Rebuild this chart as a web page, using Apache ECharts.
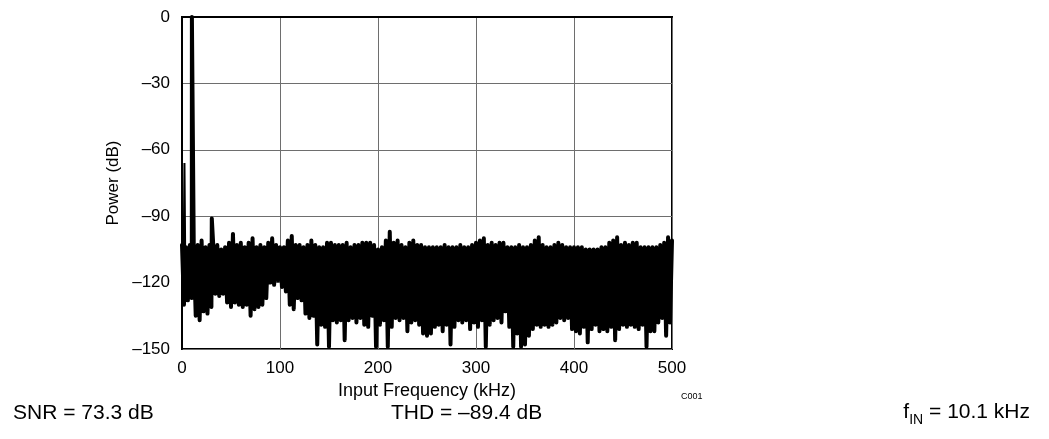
<!DOCTYPE html>
<html>
<head>
<meta charset="utf-8">
<script src="https://cdn.jsdelivr.net/npm/echarts@6/dist/echarts.min.js"></script>
<style>
  html, body { margin: 0; padding: 0; background: #fff; }
  #chart { width: 1049px; height: 439px; }
</style>
</head>
<body>
<div id="chart"></div>
<script>
// upper edge of the noise floor, read every 4 kHz starting at 0 kHz
var peakDb = [
  -103, -104, -103, -104, -103, -101, -104, -103, -104, -103,
  -105, -104, -102, -98, -103, -102, -104, -102, -100, -104,
  -103, -104, -102, -100, -103, -104, -104, -101, -99, -103,
  -103, -104, -103, -101, -103, -104, -104, -102, -102, -103,
  -103, -103, -102, -104, -103, -103, -102, -102, -102, -103,
  -105, -104, -101, -97, -102, -101, -103, -104, -102, -101,
  -103, -103, -104, -104, -104, -104, -104, -103, -104, -104,
  -104, -103, -104, -104, -103, -102, -101, -100, -103, -102,
  -103, -102, -102, -104, -104, -104, -103, -104, -104, -103,
  -101, -99.5, -103, -104, -104, -103, -102, -103, -104, -104,
  -104, -104, -104, -105, -105, -105, -105, -104, -104, -102,
  -101, -99.5, -103, -102, -103, -102, -102, -104, -104, -104,
  -104, -104, -103, -102, -99.5, -101
]
// lower edge of the noise floor, read every 4 kHz starting at 2 kHz
var troughDb = [
  -130, -128, -127, -135, -137, -133, -134, -131, -125, -126,
  -125, -129, -131, -129, -130, -131, -130, -135, -132, -131,
  -130, -127, -120, -121, -119, -122, -124, -130, -132, -127,
  -128, -134, -136, -135, -148, -139, -140, -149, -137, -138,
  -137, -146, -137, -136, -138, -136, -139, -140, -135, -149,
  -139, -137, -149, -140, -136, -137, -136, -142, -138, -137,
  -139, -143, -144, -143, -140, -139, -142, -139, -148, -140,
  -137, -138, -137, -141, -138, -140, -137, -149, -139, -137,
  -136, -138, -133, -140, -149, -143, -149, -148, -144, -141,
  -139, -140, -139, -140, -139, -138, -136, -137, -136, -141,
  -142, -143, -140, -147, -141, -139, -142, -141, -142, -140,
  -146, -141, -139, -140, -139, -140, -141, -139, -149, -142,
  -142, -138, -136, -144, -138
]
// fundamental and 3rd harmonic
var toneKHz = [10.1, 30.4]
var toneDb = [0, -91]
// DC bin, drawn as a thin line
var dcKHz = [1.5, 2.5, 3.5]
var dcDb = [-120, -66, -120]

var fontFamily = 'Liberation Sans, Arial, sans-serif'

function dash(v) {
  return String(v).replace('-', '\u2013')
}

var points = []
for (var i = 0; i < peakDb.length; i++) {
  points.push([i * 4, peakDb[i]])
}
for (var j = 0; j < troughDb.length; j++) {
  points.push([j * 4 + 2, troughDb[j]])
}
for (var k = 0; k < toneKHz.length; k++) {
  points.push([toneKHz[k], toneDb[k]])
}
points.sort(function(a, b) { return a[0] - b[0] })

var dcPoints = dcKHz.map(function(f, n) { return [f, dcDb[n]] })

var plain = { fontWeight: 'normal', color: '#000', fontFamily: fontFamily }

var chart = echarts.init(document.getElementById('chart'))
chart.setOption({
  animation: false,
  textStyle: { fontFamily: fontFamily, color: '#000' },
  title: [
    {
      text: 'SNR = 73.3 dB',
      left: 8,
      top: 398,
      textStyle: Object.assign({ fontSize: 21 }, plain)
    },
    {
      text: 'THD = \u201389.4 dB',
      left: 386,
      top: 398,
      textStyle: Object.assign({ fontSize: 21 }, plain)
    },
    {
      text: '{f|f}{s|IN}{f| = 10.1 kHz}',
      right: 14,
      top: 397,
      textStyle: {
        fontFamily: fontFamily,
        fontWeight: 'normal',
        rich: {
          f: Object.assign({ fontSize: 21, lineHeight: 24, verticalAlign: 'top' }, plain),
          s: Object.assign({ fontSize: 14, lineHeight: 16, padding: [11, 0, 0, 0], verticalAlign: 'top' }, plain)
        }
      }
    },
    {
      text: 'C001',
      left: 676,
      top: 387,
      textStyle: Object.assign({ fontSize: 9 }, plain)
    }
  ],
  grid: {
    left: 182,
    top: 17,
    right: 377,
    bottom: 90,
    show: true,
    borderColor: '#000',
    borderWidth: 2,
    backgroundColor: 'transparent'
  },
  xAxis: {
    type: 'value',
    min: 0,
    max: 500,
    interval: 100,
    name: 'Input Frequency (kHz)',
    nameLocation: 'middle',
    nameGap: 33,
    nameTextStyle: { fontSize: 18, color: '#000', fontFamily: fontFamily },
    axisLine: { show: true, lineStyle: { color: '#000', width: 2 } },
    axisTick: { show: false },
    splitLine: { show: true, lineStyle: { color: '#6e6e6e', width: 1 } },
    axisLabel: { fontSize: 17, color: '#000', margin: 11, fontFamily: fontFamily }
  },
  yAxis: {
    type: 'value',
    min: -150,
    max: 0,
    interval: 30,
    name: 'Power (dB)',
    nameLocation: 'middle',
    nameGap: 60,
    nameTextStyle: { fontSize: 17, color: '#000', fontFamily: fontFamily },
    axisLine: { show: true, lineStyle: { color: '#000', width: 2 } },
    axisTick: { show: false },
    splitLine: { show: true, lineStyle: { color: '#6e6e6e', width: 1 } },
    axisLabel: {
      fontSize: 17,
      color: '#000',
      margin: 12,
      fontFamily: fontFamily,
      formatter: function(v) { return dash(v) }
    }
  },
  series: [
    {
      type: 'line',
      data: points,
      showSymbol: false,
      symbol: 'none',
      clip: true,
      lineStyle: { color: '#000', width: 4, cap: 'round', join: 'round' }
    },
    {
      type: 'line',
      data: dcPoints,
      showSymbol: false,
      symbol: 'none',
      clip: true,
      lineStyle: { color: '#000', width: 2 }
    }
  ]
})
</script>
</body>
</html>
